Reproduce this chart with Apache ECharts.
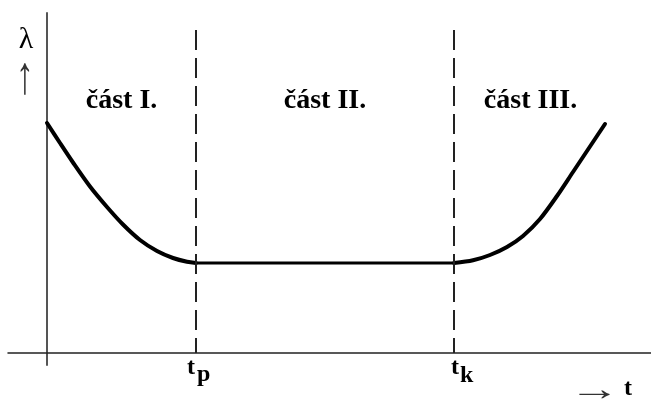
<!DOCTYPE html>
<html><head><meta charset="utf-8">
<script src="https://cdn.jsdelivr.net/npm/echarts@6/dist/echarts.min.js"></script>
<style>html,body{margin:0;padding:0;background:#fff}#c{width:651px;height:400px}</style>
</head><body><div id="c"></div>
<script>
// phase I (early failures)
const tLeft   = [0, 0.13, 0.26, 0.43, 0.60, 0.76, 0.93, 1.10, 1.26, 1.40, 1.49];
const lamLeft = [2.30, 2.10, 1.905, 1.665, 1.46, 1.285, 1.13, 1.02, 0.95, 0.912, 0.90];
// phase II (constant rate)
const tFlat   = [1.49, 4.07];
const lamFlat = [0.90, 0.90];
// phase III (wear-out)
const tRight   = [4.07, 4.26, 4.43, 4.60, 4.76, 4.93, 5.10, 5.26, 5.43, 5.58];
const lamRight = [0.90, 0.927, 0.98, 1.06, 1.17, 1.34, 1.57, 1.81, 2.065, 2.29];
// boundaries tp, tk
const boundaries = [1.49, 4.07];
const boundaryTop = 3.23;
const boundaryMain = ['t', 't'];
const boundarySub = ['p', 'k'];
const sectionEdges = [0, 1.49, 4.07, 5.60];
const sectionNames = ['část I.', 'část II.', 'část III.'];
const yName = 'λ';
const xName = 't';

const pairs = (xs, ys) => xs.map((x, i) => [x, ys[i]]);
const chart = echarts.init(document.getElementById('c'), null, {renderer: 'canvas'});
const curveStyle = {color: '#000', width: 4, cap: 'round', join: 'round'};
chart.setOption({
  animation: false,
  grid: {left: 8, right: 0, top: 13, bottom: 35},
  xAxis: {type: 'value', min: -0.39, max: 6.04,
    axisLine: {onZero: true, lineStyle: {color: '#222', width: 1.5}},
    axisTick: {show: false}, axisLabel: {show: false}, splitLine: {show: false}},
  yAxis: {type: 'value', min: -0.12, max: 3.40,
    axisLine: {show: true, onZero: true, lineStyle: {color: '#555', width: 2}},
    axisTick: {show: false}, axisLabel: {show: false}, splitLine: {show: false}},
  series: [
    {type: 'line', data: pairs(tLeft, lamLeft), smooth: 0.3, showSymbol: false, lineStyle: curveStyle},
    {type: 'line', data: pairs(tFlat, lamFlat), showSymbol: false, lineStyle: Object.assign({}, curveStyle, {width: 3}),
      markLine: {silent: true, symbol: 'none', label: {show: false},
        lineStyle: {type: [20, 8], width: 2, color: '#222'},
        data: boundaries.map(b => [{coord: [b, boundaryTop]}, {coord: [b, 0]}])}},
    {type: 'line', data: pairs(tRight, lamRight), smooth: 0.3, showSymbol: false, lineStyle: curveStyle}
  ]
});

const px = (x, y) => chart.convertToPixel({gridIndex: 0}, [x, y]);
const serifB = (s) => 'bold ' + s + 'px "Liberation Serif", "Times New Roman", serif';
const serif = (s) => s + 'px "Liberation Serif", "Times New Roman", serif';
const g = [];
sectionNames.forEach((n, i) => {
  const cx = px((sectionEdges[i] + sectionEdges[i + 1]) / 2, 0)[0];
  g.push({type: 'text', x: cx, y: 100.5, style: {text: n, font: serifB(28), fill: '#000', align: 'center', verticalAlign: 'middle'}});
});
const tOffsets = [-9, -3];
const subOffsets = [10, 9];
const subDrop = [7, 8];
boundaries.forEach((b, i) => {
  const bx = px(b, 0)[0];
  g.push({type: 'text', x: bx + tOffsets[i], y: 368, style: {text: boundaryMain[i], font: serifB(24), fill: '#000', align: 'left', verticalAlign: 'middle'}});
  g.push({type: 'text', x: bx + tOffsets[i] + subOffsets[i], y: 368 + subDrop[i], style: {text: boundarySub[i], font: serifB(24), fill: '#000', align: 'left', verticalAlign: 'middle'}});
});
const origin = px(0, 0);
g.push({type: 'text', x: origin[0] - 21, y: 40, style: {text: yName, font: serif(30), fill: '#000', align: 'center', verticalAlign: 'middle'}});
g.push({type: 'text', x: origin[0] - 22, y: 79, scaleY: 1.5, style: {text: '↑', font: serif(36), fill: '#333', align: 'center', verticalAlign: 'middle'}});
g.push({type: 'text', x: 594.5, y: 391, scaleX: 1.5, style: {text: '→', font: serif(34), fill: '#333', align: 'center', verticalAlign: 'middle'}});
g.push({type: 'text', x: 624, y: 389, style: {text: xName, font: serifB(24), fill: '#000', align: 'left', verticalAlign: 'middle'}});
chart.setOption({graphic: g});
</script></body></html>
